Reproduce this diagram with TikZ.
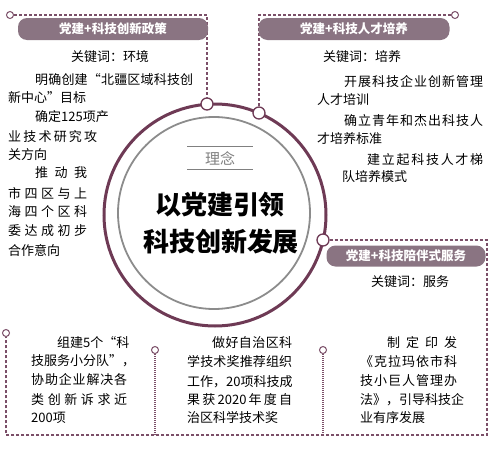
\documentclass[tikz,border=0pt]{standalone}
\usepackage{fontspec}
\newfontfamily\cjk{Noto Sans CJK SC}
\ExplSyntaxOn
\NewDocumentCommand\spread{mm}{\makebox[#1][s]{\tl_map_inline:nn{#2}{##1\hfil}\unskip}}
\ExplSyntaxOff
\definecolor{ringc}{HTML}{6E3A55}
\definecolor{linkc}{HTML}{7B4F68}
\definecolor{bannerc}{HTML}{8A7482}
\tikzset{
  ring/.style={draw=ringc, line width=3pt},
  inring/.style={draw=gray!90, line width=1.8pt},
  hub/.style={circle, draw=ringc, fill=white, line width=1.3pt, minimum size=12pt, inner sep=0pt},
  tip/.style={circle, draw=linkc, fill=white, line width=1pt, minimum size=7pt, inner sep=0pt},
  link/.style={draw=linkc, line width=1.3pt, dash pattern=on 3pt off 2pt},
  dotlink/.style={draw=linkc, line width=1.2pt, dash pattern=on 1pt off 1pt},
  banner/.style={fill=bannerc, rounded corners=9pt, text=white, minimum height=22pt, inner sep=0pt,
    font=\cjk\bfseries\fontsize{12.5}{12.5}\selectfont},
  kw/.style={inner sep=0pt, font=\cjk\fontsize{13}{13}\selectfont},
  body/.style={anchor=west, inner sep=0pt, font=\cjk\fontsize{13}{13}\selectfont},
  title/.style={inner sep=0pt, font=\cjk\bfseries\fontsize{26}{26}\selectfont}
}
\begin{document}
\begin{tikzpicture}[x=1pt,y=-1pt]
  \useasboundingbox (0,0) rectangle (491,461);
  % centre rings
  \draw[ring] (215,215) circle (111pt);
  \draw[inring] (214,213) circle (96pt);
  \node[font=\cjk\fontsize{15}{15}\selectfont, text=gray, minimum width=65pt, minimum height=23pt, inner sep=0pt] (idea) at (220,158) {理念};
  \draw[gray, line width=1pt] (idea.north west) -- (idea.north east);
  \draw[gray, line width=1pt] (idea.south west) -- (idea.south east);
  \node[title] (t1) at (220,205) {以党建引领};
  \node[title] (t2) at (221,242) {科技创新发展};
  % hubs on the ring and free ends
  \node[hub] (h1) at (207,104) {};
  \node[hub] (h2) at (259,113) {};
  \node[hub] (h3) at (323,240) {};
  \node[tip] (p1) at (10,15) {};
  \node[tip] (p2) at (455,15) {};
  \node[tip] (p3) at (6,333) {};
  \node[tip] (p4) at (155,350) {};
  \node[tip] (p5) at (323,350) {};
  \coordinate (c1) at (207,15);
  \coordinate (c2) at (259,15);
  \coordinate (c3) at (487,240);
  \coordinate (c4) at (487,435);
  \coordinate (c5) at (6,435);
  \coordinate (c6) at (155,435);
  \coordinate (c7) at (323,435);
  \draw[link] (p1) -- (c1) -- (h1);
  \draw[link] (p2) -- (c2) -- (h2);
  \draw[link] (h3) -- (c3) -- (c4) -- (c5) -- (p3);
  \draw[dotlink] (p4) -- (c6);
  \draw[dotlink] (p5) -- (c7);
  % banners
  \node[banner, minimum width=190pt] (policy) at (113,29) {党建+科技创新政策};
  \node[banner, minimum width=191pt] (talent) at (354,29) {党建+科技人才培养};
  \node[banner, minimum width=159pt, minimum height=21pt] (service) at (406,256) {党建+科技陪伴式服务};
  \node[kw] (kpolicy) at (110,57) {关键词：环境};
  \node[kw] (ktalent) at (362,57) {关键词：培养};
  \node[kw] (kservice) at (410,282) {关键词：服务};
  % policy text
  \node[body] (pl1) at (35,80) {\spread{158pt}{明确创建“北疆区域科技创}};
  \node[body] (pl2) at (8,98) {新中心”目标};
  \node[body] (pl3) at (35,117) {\spread{62pt}{确定{125}项产}};
  \node[body] (pl4) at (8,137) {\spread{89pt}{业技术研究攻}};
  \node[body] (pl5) at (8,155) {关方向};
  \node[body] (pl6) at (35,173) {\spread{52pt}{推动我}};
  \node[body] (pl7) at (8,193) {\spread{79pt}{市四区与上}};
  \node[body] (pl8) at (8,212) {\spread{79pt}{海四个区科}};
  \node[body] (pl9) at (8,231) {\spread{79pt}{委达成初步}};
  \node[body] (pl10) at (8,250) {合作意向};
  % talent text
  \node[body] (tl1) at (344,82) {\spread{139pt}{开展科技企业创新管理}};
  \node[body] (tl2) at (317,100) {人才培训};
  \node[body] (tl3) at (344,121) {\spread{139pt}{确立青年和杰出科技人}};
  \node[body] (tl4) at (317,139) {才培养标准};
  \node[body] (tl5) at (367,160) {\spread{116pt}{建立起科技人才梯}};
  \node[body] (tl6) at (342,177) {队培养模式};
  % service text
  \node[body] (sa1) at (57,343) {\spread{70pt}{组建5个“科}};
  \node[body] (sa2) at (31,361) {\spread{96pt}{技服务小分队”，}};
  \node[body] (sa3) at (31,380) {\spread{96pt}{协助企业解决各}};
  \node[body] (sa4) at (31,400) {\spread{96pt}{类创新诉求近}};
  \node[body] (sa5) at (31,418) {200项};
  \node[body] (sb1) at (212,343) {\spread{80pt}{做好自治区科}};
  \node[body] (sb2) at (187,362) {\spread{105pt}{学技术奖推荐组织}};
  \node[body] (sb3) at (187,382) {\spread{105pt}{工作，{20}项科技成}};
  \node[body] (sb4) at (187,400) {\spread{105pt}{果获{2020}年度自}};
  \node[body] (sb5) at (187,418) {治区科学技术奖};
  \node[body] (sc1) at (387,343) {\spread{70pt}{制定印发}};
  \node[body] (sc2) at (360,362) {\spread{97pt}{《克拉玛依市科}};
  \node[body] (sc3) at (360,381) {\spread{97pt}{技小巨人管理办}};
  \node[body] (sc4) at (360,400) {\spread{97pt}{法》，引导科技企}};
  \node[body] (sc5) at (360,418) {业有序发展};
\end{tikzpicture}
\end{document}
